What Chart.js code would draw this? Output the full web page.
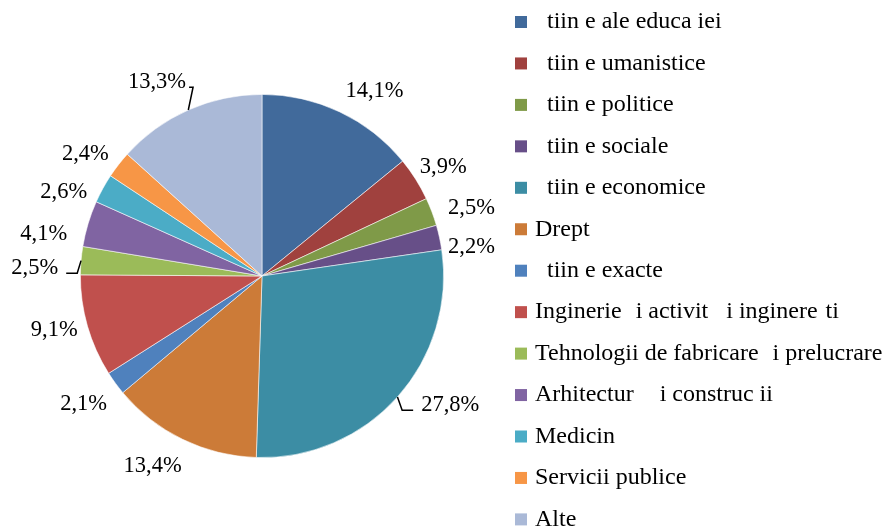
<!DOCTYPE html>
<html>
<head>
<meta charset="utf-8">
<script src="https://cdn.jsdelivr.net/npm/chart.js@4/dist/chart.umd.min.js"></script>
<style>
  html, body { margin: 0; padding: 0; background: #ffffff; }
  #wrap { width: 888px; height: 526px; position: relative; }
</style>
</head>
<body>
<div id="wrap"><canvas id="c" width="888" height="526"></canvas></div>
<script>
// ---- data ----
const categories = [
  "\u2002tiin e ale educa iei",
  "\u2002tiin e umanistice",
  "\u2002tiin e politice",
  "\u2002tiin e sociale",
  "\u2002tiin e economice",
  "Drept",
  "\u2002tiin e exacte",
  "Inginerie  \u200Ai activit   i inginere \u200Ati",
  "Tehnologii de fabricare  \u200Ai prelucrare",
  "Arhitectur    \u200Ai construc ii",
  "Medicin",
  "Servicii publice",
  "Alte"
];
const shares = [14.1, 3.9, 2.5, 2.2, 27.8, 13.4, 2.1, 9.1, 2.5, 4.1, 2.6, 2.4, 13.3];
const valueLabels = ["14,1%", "3,9%", "2,5%", "2,2%", "27,8%", "13,4%", "2,1%", "9,1%", "2,5%", "4,1%", "2,6%", "2,4%", "13,3%"];
const sliceColors = [
  "#416A9B", "#A0413E", "#7F9A48", "#674F88", "#3C8DA4", "#CC7B38",
  "#4F81BD", "#C0504D", "#9BBB59", "#8064A2", "#4BACC6", "#F79646", "#AAB9D7"
];

// ---- label layout (relative to each slice's mid angle) ----
const labelAngleShift = [5.9, 1.2, 2.8, 4.3, -7.3, 4.0, 0.4, 1.5, -2.9, -5.8, -5.8, -3.1, -4.5];
const labelRadius = [1.193, 1.165, 1.212, 1.165, 1.257, 1.208, 1.211, 1.182, 1.252, 1.224, 1.186, 1.183, 1.214];
const leaders = { 4: { gap: 8, len: 11 }, 8: { gap: 8, len: 11 }, 12: { gap: 3, len: 4 } };

const LABEL_FONT = "22.5px 'Liberation Serif', 'Times New Roman', serif";
const LEGEND_FONT = "24px 'Liberation Serif', 'Times New Roman', serif";

const labelPlugin = {
  id: 'outsideLabels',
  afterDatasetsDraw(chart) {
    const ctx = chart.ctx;
    const meta = chart.getDatasetMeta(0);
    ctx.save();
    ctx.font = LABEL_FONT;
    ctx.fillStyle = '#000';
    ctx.textAlign = 'center';
    ctx.textBaseline = 'middle';
    meta.data.forEach((arc, i) => {
      const p = arc.getProps(['x', 'y', 'startAngle', 'endAngle', 'outerRadius'], true);
      const mid = (p.startAngle + p.endAngle) / 2;
      const a = mid + labelAngleShift[i] * Math.PI / 180;
      const cx = p.x + Math.cos(a) * p.outerRadius * labelRadius[i];
      const cy = p.y + Math.sin(a) * p.outerRadius * labelRadius[i];
      const text = valueLabels[i];
      const w = ctx.measureText(text).width;
      ctx.fillText(text, cx, cy);
      const ld = leaders[i];
      if (ld) {
        const ex = p.x + Math.cos(mid) * p.outerRadius;
        const ey = p.y + Math.sin(mid) * p.outerRadius;
        const right = ex > cx;
        const sx = right ? cx + w / 2 + ld.gap : cx - w / 2 - ld.gap;
        const ox = right ? sx + ld.len : sx - ld.len;
        const ly = cy + 5;
        ctx.beginPath();
        ctx.strokeStyle = '#000';
        ctx.lineWidth = 1.5;
        ctx.moveTo(sx, ly);
        ctx.lineTo(ox, ly);
        ctx.lineTo(ex, ey);
        ctx.stroke();
      }
    });
    ctx.restore();
  }
};

const legendPlugin = {
  id: 'sideLegend',
  afterDraw(chart) {
    const ctx = chart.ctx;
    const ds = chart.data.datasets[0];
    const x0 = 515, y0 = 22, step = 41.45, box = 12;
    ctx.save();
    ctx.font = LEGEND_FONT;
    ctx.textAlign = 'left';
    ctx.textBaseline = 'middle';
    chart.data.labels.forEach((lab, i) => {
      const y = y0 + i * step;
      ctx.fillStyle = ds.backgroundColor[i];
      ctx.fillRect(x0, y - box / 2, box, box);
      ctx.fillStyle = '#000';
      ctx.fillText(lab, x0 + 20, y);
    });
    ctx.restore();
  }
};

new Chart(document.getElementById('c'), {
  type: 'pie',
  data: {
    labels: categories,
    datasets: [{
      data: shares,
      backgroundColor: sliceColors,
      borderColor: 'rgba(255,255,255,0.7)',
      borderWidth: 0.8
    }]
  },
  options: {
    responsive: false,
    animation: false,
    devicePixelRatio: 1,
    layout: { padding: { left: 80, top: 94, right: 444, bottom: 68 } },
    plugins: {
      legend: { display: false },
      tooltip: { enabled: false },
      title: { display: false }
    }
  },
  plugins: [labelPlugin, legendPlugin]
});
</script>
</body>
</html>
